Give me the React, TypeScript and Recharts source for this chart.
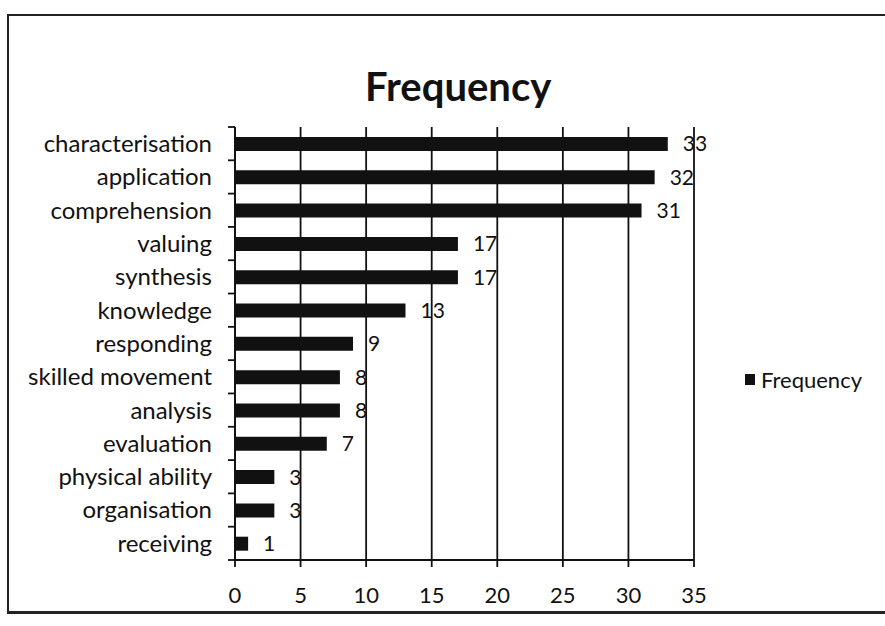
import React from "react";
import { BarChart, Bar, XAxis, YAxis, CartesianGrid, LabelList } from "recharts";

const categories = [
  "characterisation",
  "application",
  "comprehension",
  "valuing",
  "synthesis",
  "knowledge",
  "responding",
  "skilled movement",
  "analysis",
  "evaluation",
  "physical ability",
  "organisation",
  "receiving",
];
const frequency = [33, 32, 31, 17, 17, 13, 9, 8, 8, 7, 3, 3, 1];
const xTicks = [0, 5, 10, 15, 20, 25, 30, 35];
const seriesName = "Frequency";

const data = categories.map((name, i) => ({ name, Frequency: frequency[i] }));

const FONT = "Lato, 'Open Sans', sans-serif";
const W = 885;
const H = 626;
const M = { top: 127, right: 191, bottom: 26, left: 0 };
const Y_AXIS_W = 235;
const X_AXIS_H = 40;
const plotH = H - M.top - M.bottom - X_AXIS_H;
const band = plotH / categories.length;

const CategoryTick = (props: any) => {
  const { y, payload, index } = props;
  const axisX = Y_AXIS_W;
  return (
    <g>
      <line x1={axisX - 7} x2={axisX} y1={y - band / 2} y2={y - band / 2} stroke="#111" strokeWidth={1.8} />
      {index === categories.length - 1 && (
        <line x1={axisX - 7} x2={axisX} y1={y + band / 2} y2={y + band / 2} stroke="#111" strokeWidth={1.8} />
      )}
      <text x={212} y={y} dy="0.35em" textAnchor="end" fontSize={24} fontFamily={FONT} fill="#111">
        {payload.value}
      </text>
    </g>
  );
};

export default function App() {
  return (
    <div style={{ position: "absolute", left: 0, top: 0, width: W, height: H, background: "#fff", overflow: "hidden" }}>
      <div
        style={{
          position: "absolute",
          left: 7,
          top: 14,
          width: W,
          height: 600,
          borderLeft: "2px solid #222",
          borderTop: "2px solid #222",
          borderBottom: "3px solid #222",
          boxSizing: "border-box",
        }}
      />
      <div
        style={{
          position: "absolute",
          left: 365,
          top: 62,
          fontFamily: FONT,
          fontWeight: 700,
          fontSize: 40,
          color: "#111",
          whiteSpace: "nowrap",
        }}
      >
        {seriesName}
      </div>
      <div
        style={{
          position: "absolute",
          left: 745,
          top: 366,
          display: "flex",
          alignItems: "center",
          fontFamily: FONT,
          fontSize: 22,
          color: "#111",
        }}
      >
        <span style={{ width: 10, height: 11, background: "#111", display: "inline-block", marginRight: 6 }} />
        {seriesName}
      </div>
      <div style={{ position: "absolute", left: 0, top: 0 }}>
        <BarChart width={W} height={H} data={data} layout="vertical" margin={M} barSize={14}>
          <CartesianGrid horizontal={false} vertical={true} stroke="#111" strokeWidth={1.8} />
          <XAxis
            type="number"
            domain={[0, 35]}
            ticks={xTicks}
            height={X_AXIS_H}
            axisLine={{ stroke: "#111", strokeWidth: 1.8 }}
            tickLine={{ stroke: "#111", strokeWidth: 1.8 }}
            tickSize={7}
            tickMargin={20}
            tick={{ fontSize: 22, fontFamily: FONT, fill: "#111" }}
          />
          <YAxis
            type="category"
            dataKey="name"
            width={Y_AXIS_W}
            axisLine={{ stroke: "#111", strokeWidth: 1.8 }}
            tickLine={false}
            tick={<CategoryTick />}
            interval={0}
          />
          <Bar dataKey="Frequency" fill="#111" isAnimationActive={false}>
            <LabelList dataKey="Frequency" position="right" offset={15} fill="#111" fontSize={21} fontFamily={FONT} />
          </Bar>
        </BarChart>
      </div>
    </div>
  );
}
